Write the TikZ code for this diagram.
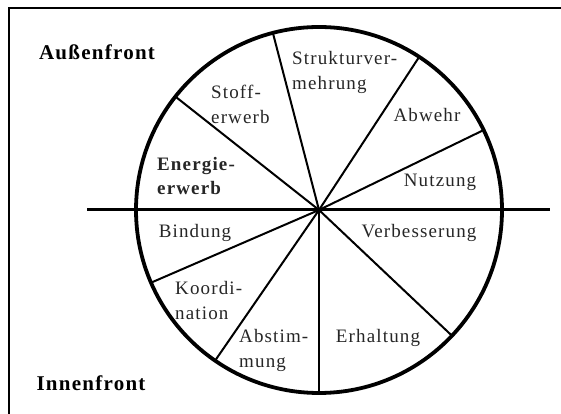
\documentclass[tikz,border=0pt]{standalone}
\usepackage{fontspec}
\setmainfont{Liberation Serif}[LetterSpace=6]
\usetikzlibrary{calc}
\begin{document}
\begin{tikzpicture}[x=1pt,y=1pt,
  lab/.style={inner sep=0pt, text=black!85, font=\fontsize{19}{25}\selectfont},
  blab/.style={lab, font=\fontsize{19}{24}\selectfont\bfseries},
  front/.style={inner sep=0pt, font=\fontsize{21}{24}\selectfont\bfseries},
  spoke/.style={line width=2pt},
  rim/.style={line width=3.8pt},
  axis/.style={line width=3pt},
  frameline/.style={line width=2pt}]
\useasboundingbox (0,0) rectangle (561,414);
% frame
\coordinate (ftl) at (8.5,406);
\coordinate (ftr) at (561,406);
\coordinate (fbl) at (8.5,0);
\draw[frameline] (fbl) -- (ftl) -- (ftr);
% circle
\coordinate (C) at (319,204);
\draw[rim] (C) circle (183);
% horizontal axis
\coordinate (hl) at (87,204);
\coordinate (hr) at (550,204);
\draw[axis] (hl) -- (hr);
% spokes
\foreach \a/\n in {104.6/s1,141.7/s2,56.8/s3,25.9/s4,203.4/s5,235.4/s6,270/s7,316.6/s8}{
  \coordinate (\n) at ($(C)+(\a:182)$);
  \draw[spoke] (C) -- (\n);
}
% labels
\node[front] (aus) at (97,362) {Außenfront};
\node[front] (inn) at (91,31) {Innenfront};
\node[lab, align=left, anchor=west] (stoff) at (211,310) {Stoff-\\erwerb};
\node[lab, align=left, anchor=west] (struk) at (292,341.5) {Strukturver-\\mehrung};
\node[lab] (abw) at (427,299) {Abwehr};
\node[lab] (nutz) at (440,232) {Nutzung};
\node[blab, align=left, anchor=west] (energ) at (157,238) {Energie-\\erwerb};
\node[lab] (bind) at (195,181) {Bindung};
\node[lab, align=left, anchor=west] (koord) at (175,113.5) {Koordi-\\nation};
\node[lab, align=left, anchor=west] (abst) at (239,64) {Abstim-\\mung};
\node[lab] (erh) at (378,76) {Erhaltung};
\node[lab] (verb) at (419,181) {Verbesserung};
\end{tikzpicture}
\end{document}
